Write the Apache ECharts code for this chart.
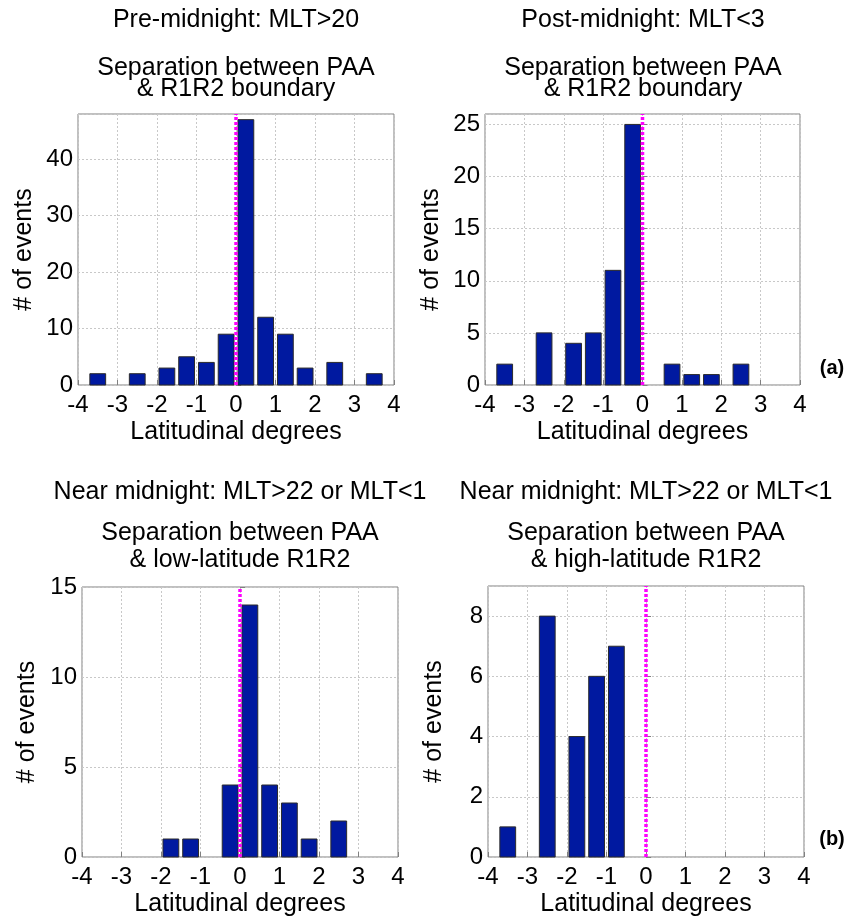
<!DOCTYPE html>
<html>
<head>
<meta charset="utf-8">
<script src="https://cdn.jsdelivr.net/npm/echarts@6/dist/echarts.min.js"></script>
<style>html,body{margin:0;padding:0;background:#fff}#c{width:852px;height:919px}</style>
</head>
<body>
<div id="c"></div>
<script>
// ---- data ----
const p1X = [-3.5, -2.5, -1.75, -1.25, -0.75, -0.25, 0.25, 0.75, 1.25, 1.75, 2.5, 3.5];
const p1Y = [2, 2, 3, 5, 4, 9, 47, 12, 9, 3, 4, 2];
const p2X = [-3.5, -2.5, -1.75, -1.25, -0.75, -0.25, 0.75, 1.25, 1.75, 2.5];
const p2Y = [2, 5, 4, 5, 11, 25, 2, 1, 1, 2];
const p3X = [-1.75, -1.25, -0.25, 0.25, 0.75, 1.25, 1.75, 2.5];
const p3Y = [1, 1, 4, 14, 4, 3, 1, 2];
const p4X = [-3.5, -2.5, -1.75, -1.25, -0.75];
const p4Y = [1, 8, 4, 6, 7];
const yMaxes = [48, 26, 15, 9];
const yIntervals = [10, 5, 5, 2];
const titles1 = ['Pre-midnight: MLT>20', 'Post-midnight: MLT<3', 'Near midnight: MLT>22 or MLT<1', 'Near midnight: MLT>22 or MLT<1'];
const titles2 = ['Separation between PAA', 'Separation between PAA', 'Separation between PAA', 'Separation between PAA'];
const titles3 = ['& R1R2 boundary', '& R1R2 boundary', '& low-latitude R1R2', '& high-latitude R1R2'];
const xName = 'Latitudinal degrees';
const yName = '# of events';
const panelTags = ['(a)', '(b)'];

// ---- layout ----
const FONT = '"Liberation Sans", Arial, sans-serif';
const grids = [
  {left: 78, top: 114, width: 316, height: 271},
  {left: 485, top: 114, width: 315, height: 271},
  {left: 82, top: 587, width: 316, height: 270},
  {left: 488, top: 586, width: 316, height: 271}
];
const yNameGaps = [41, 41, 42, 41];
const xs = [p1X, p2X, p3X, p4X];
const ys = [p1Y, p2Y, p3Y, p4Y];

const option = {
  animation: false,
  backgroundColor: '#fff',
  grid: grids.map(g => Object.assign({show: true, borderColor: '#808080', borderWidth: 1, backgroundColor: '#fff'}, g)),
  xAxis: grids.map((g, i) => ({
    type: 'value', gridIndex: i, min: -4, max: 4, interval: 1,
    name: xName, nameLocation: 'middle', nameGap: 35,
    nameTextStyle: {fontFamily: FONT, fontSize: 25, color: '#000'},
    axisLine: {show: false},
    axisTick: {show: true, inside: true, length: 5, lineStyle: {color: '#808080'}},
    axisLabel: {fontFamily: FONT, fontSize: 24, color: '#000', margin: 8},
    splitLine: {show: true, lineStyle: {color: '#c8c8c8', type: [2, 2], width: 1}}
  })),
  yAxis: grids.map((g, i) => ({
    type: 'value', gridIndex: i, min: 0, max: yMaxes[i], interval: yIntervals[i],
    name: yName, nameLocation: 'middle', nameGap: yNameGaps[i],
    nameTextStyle: {fontFamily: FONT, fontSize: 25, color: '#000'},
    axisLine: {show: false},
    axisTick: {show: true, inside: true, length: 5, lineStyle: {color: '#808080'}},
    axisLabel: {fontFamily: FONT, fontSize: 24, color: '#000', margin: 5, showMaxLabel: (yMaxes[i] % yIntervals[i] === 0)},
    splitLine: {show: true, lineStyle: {color: '#c8c8c8', type: [2, 2], width: 1}}
  })),
  series: [],
  graphic: []
};

const half = 0.2;
for (let i = 0; i < 4; i++) {
  option.series.push({
    type: 'custom', xAxisIndex: i, yAxisIndex: i,
    data: xs[i].map((x, k) => [x, ys[i][k]]),
    encode: {x: 0, y: 1},
    renderItem: function (params, api) {
      const x = api.value(0), y = api.value(1);
      const a = api.coord([x - half, y]);
      const b = api.coord([x + half, 0]);
      return {type: 'rect', shape: {x: a[0], y: a[1], width: b[0] - a[0], height: b[1] - a[1]},
        style: {fill: '#0019A0', stroke: '#2b2b2b', lineWidth: 1}};
    },
    z: 2
  });
  option.series.push({
    type: 'line', xAxisIndex: i, yAxisIndex: i,
    data: [[0, 0], [0, yMaxes[i]]], symbol: 'none',
    lineStyle: {color: '#ff00ff', width: 3.5, type: [3, 2]}, z: 5
  });
}

const tpos = [
  {cx: 236, y1: 20, y2: 68, y3: 89},
  {cx: 643, y1: 20, y2: 68, y3: 89},
  {cx: 240, y1: 492, y2: 533, y3: 560},
  {cx: 646, y1: 492, y2: 533, y3: 560}
];
tpos.forEach((t, i) => {
  [[titles1[i], t.y1], [titles2[i], t.y2], [titles3[i], t.y3]].forEach(([txt, y]) => {
    option.graphic.push({type: 'text', x: t.cx, y: y,
      style: {text: txt, fill: '#000', font: '25px ' + FONT, textAlign: 'center', textVerticalAlign: 'middle'}});
  });
});
option.graphic.push({type: 'text', x: 832, y: 368,
  style: {text: panelTags[0], fill: '#000', font: 'bold 20px ' + FONT, textAlign: 'center', textVerticalAlign: 'middle'}});
option.graphic.push({type: 'text', x: 832, y: 839,
  style: {text: panelTags[1], fill: '#000', font: 'bold 20px ' + FONT, textAlign: 'center', textVerticalAlign: 'middle'}});

const chart = echarts.init(document.getElementById('c'), null, {renderer: 'canvas'});
chart.setOption(option);
</script>
</body>
</html>
